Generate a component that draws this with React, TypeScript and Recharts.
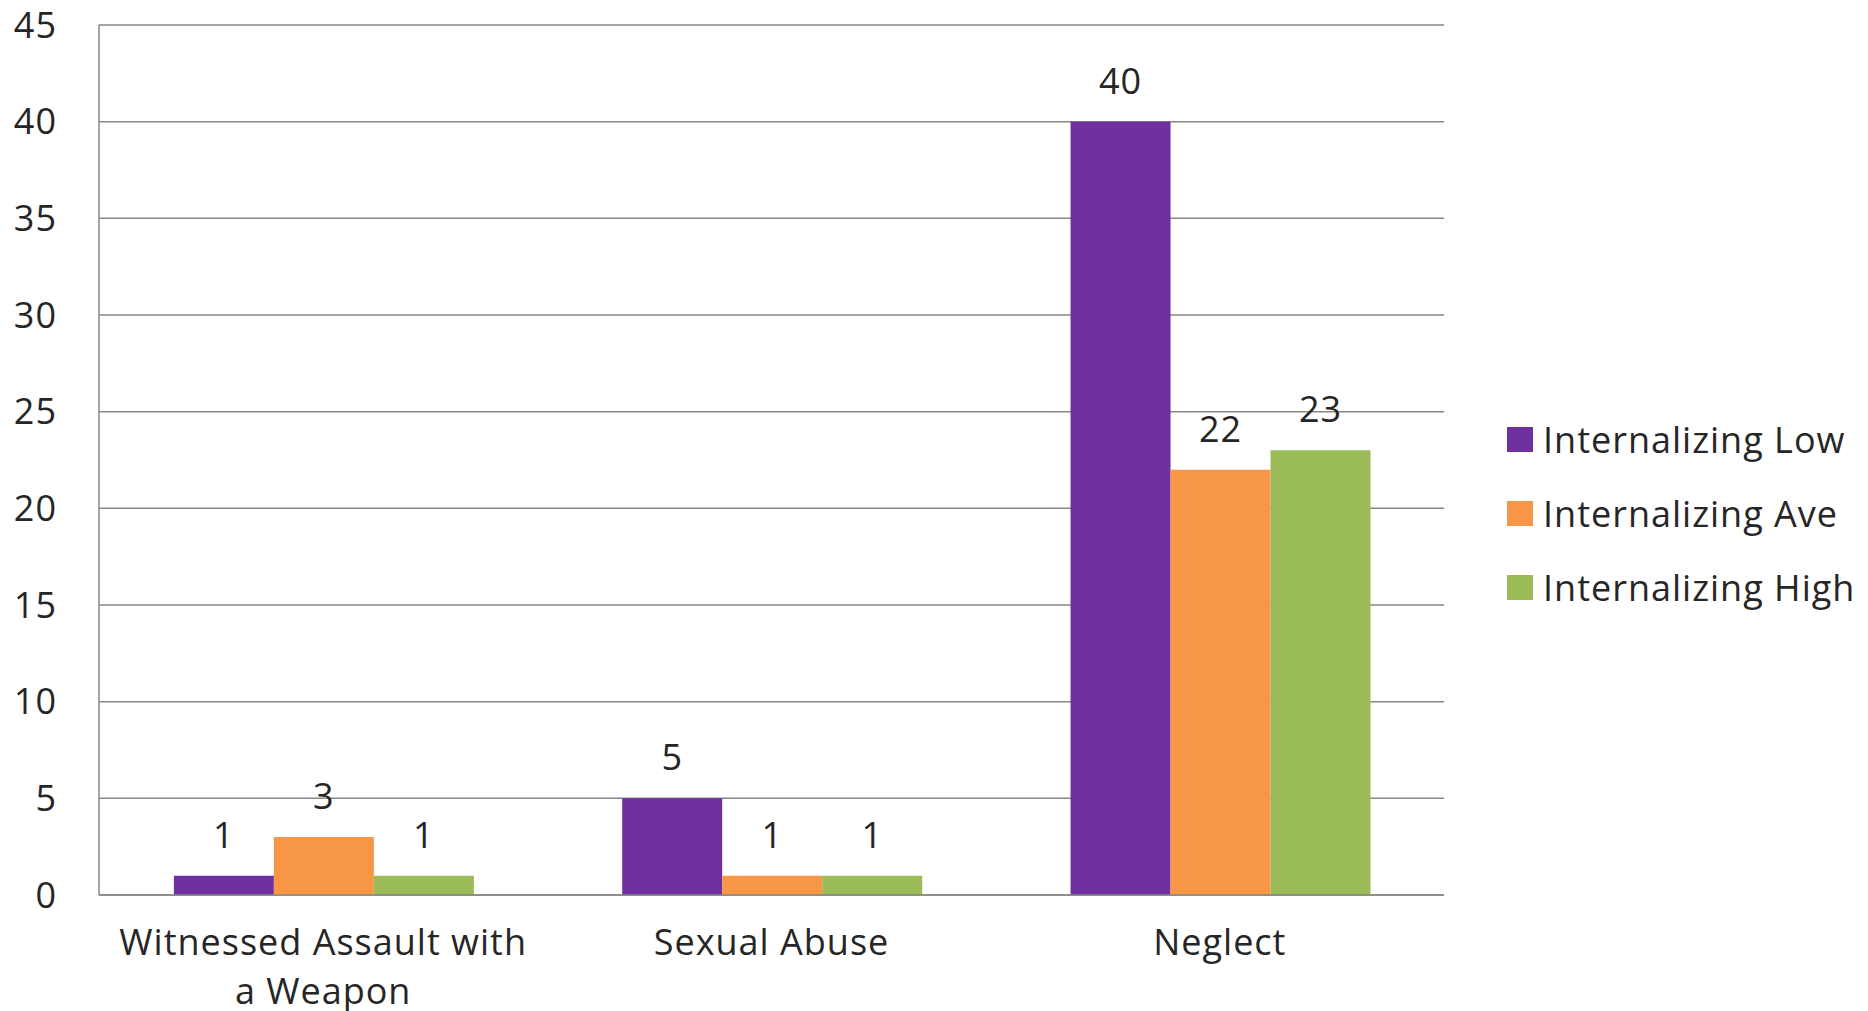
import React from "react";
import {
  BarChart,
  Bar,
  XAxis,
  YAxis,
  CartesianGrid,
  Legend,
  LabelList,
} from "recharts";

// categories ("\n" marks where the label wraps)
const categories = ["Witnessed Assault with\na Weapon", "Sexual Abuse", "Neglect"];
const internalizingLow = [1, 5, 40];
const internalizingAve = [3, 1, 22];
const internalizingHigh = [1, 1, 23];
const yTicks = [0, 5, 10, 15, 20, 25, 30, 35, 40, 45];

const seriesDefs = [
  { key: "low", name: "Internalizing Low", color: "#7030A0" },
  { key: "ave", name: "Internalizing Ave", color: "#F79646" },
  { key: "high", name: "Internalizing High", color: "#9BBB59" },
];

const data = categories.map((name, i) => ({
  name,
  low: internalizingLow[i],
  ave: internalizingAve[i],
  high: internalizingHigh[i],
}));

const FONT = "'Open Sans', Lato, sans-serif";
const TEXT = "#262626";
const LINE = "#878787";
const FS = 36;
const LS = 1;

function CategoryTick(props: any) {
  const { x, y, payload } = props;
  const lines = String(payload.value).split("\n");
  return (
    <text
      x={x}
      y={y}
      textAnchor="middle"
      fill={TEXT}
      fontSize={FS}
      fontFamily={FONT}
      letterSpacing={LS}
    >
      {lines.map((line, i) => (
        <tspan key={i} x={x} dy={i === 0 ? 52 : 49}>
          {line}
        </tspan>
      ))}
    </text>
  );
}

function LegendContent() {
  return (
    <div style={{ paddingLeft: 63, fontFamily: FONT }}>
      {seriesDefs.map((s) => (
        <div
          key={s.key}
          style={{ height: 74, display: "flex", alignItems: "center" }}
        >
          <span
            style={{
              display: "inline-block",
              flexShrink: 0,
              width: 26,
              height: 25,
              background: s.color,
              marginRight: 10,
            }}
          />
          <span
            style={{
              fontSize: FS,
              letterSpacing: LS,
              color: TEXT,
              whiteSpace: "nowrap",
            }}
          >
            {s.name}
          </span>
        </div>
      ))}
    </div>
  );
}

export default function App() {
  return (
    <div style={{ position: "absolute", left: 0, top: 0, background: "#fff" }}>
      <BarChart
        width={1868}
        height={1011}
        data={data}
        margin={{ top: 25, right: 0, bottom: 0, left: 0 }}
        barCategoryGap="16.7%"
        barGap={0}
      >
        <CartesianGrid vertical={false} stroke={LINE} strokeWidth={1.5} />
        <XAxis
          dataKey="name"
          height={116}
          axisLine={{ stroke: LINE, strokeWidth: 1.5 }}
          tickLine={false}
          tick={<CategoryTick />}
          interval={0}
        />
        <YAxis
          width={99}
          domain={[0, 45]}
          ticks={yTicks}
          axisLine={{ stroke: LINE, strokeWidth: 1.5 }}
          tickLine={false}
          tickMargin={36}
          tick={{ fill: TEXT, fontSize: FS, fontFamily: FONT, letterSpacing: LS }}
        />
        <Legend
          layout="vertical"
          align="right"
          verticalAlign="middle"
          width={424}
          wrapperStyle={{ top: 402 }}
          content={<LegendContent />}
        />
        {seriesDefs.map((s) => (
          <Bar
            key={s.key}
            dataKey={s.key}
            name={s.name}
            fill={s.color}
            isAnimationActive={false}
          >
            <LabelList
              dataKey={s.key}
              position="top"
              offset={28}
              fill={TEXT}
              fontSize={FS}
              fontFamily={FONT}
              letterSpacing={LS}
            />
          </Bar>
        ))}
      </BarChart>
    </div>
  );
}
